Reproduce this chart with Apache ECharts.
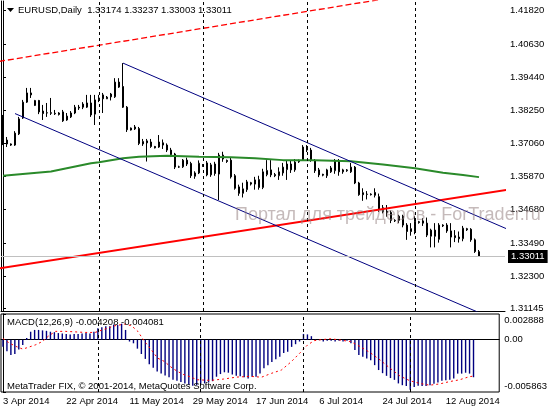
<!DOCTYPE html>
<html>
<head>
<meta charset="utf-8">
<title>EURUSD Daily</title>
<script src="https://cdn.jsdelivr.net/npm/echarts@6/dist/echarts.min.js"></script>
<style>
  html, body { margin: 0; padding: 0; background: #fff; }
  #chart { width: 550px; height: 410px; }
</style>
</head>
<body>
<div id="chart"></div>
<script>
// daily bars, 3 Apr 2014 .. 20 Aug 2014 (broker has Sunday bars, no Saturdays)
const firstDay = new Date(2014, 3, 3)
const lastDay = new Date(2014, 7, 20)
const monthNames = ['Jan','Feb','Mar','Apr','May','Jun','Jul','Aug','Sep','Oct','Nov','Dec']

const opens = [
  1.3804,1.3718,1.3704,1.3700,1.3740,1.3797,1.3854,1.3887,1.3842,1.3860,
  1.3822,1.3815,1.3816,1.3814,1.3815,1.3819,1.3790,1.3801,1.3815,1.3836,
  1.3847,1.3836,1.3851,1.3811,1.3862,1.3880,1.3866,1.3883,1.3873,1.3926,
  1.3910,1.3836,1.3754,1.3765,1.3759,1.3704,1.3715,1.3711,1.3695,1.3693,
  1.3708,1.3700,1.3682,1.3668,1.3621,1.3622,1.3646,1.3634,1.3588,1.3600,
  1.3630,1.3636,1.3593,1.3632,1.3596,1.3664,1.3645,1.3646,1.3590,1.3550,
  1.3527,1.3540,1.3565,1.3560,1.3576,1.3548,1.3594,1.3611,1.3594,1.3590,
  1.3600,1.3612,1.3632,1.3611,1.3640,1.3646,1.3693,1.3682,1.3643,1.3611,
  1.3595,1.3590,1.3604,1.3608,1.3643,1.3604,1.3608,1.3604,1.3621,1.3564,
  1.3529,1.3523,1.3524,1.3530,1.3515,1.3475,1.3463,1.3458,1.3428,1.3430,
  1.3445,1.3413,1.3400,1.3390,1.3425,1.3428,1.3420,1.3373,1.3395,1.3362,
  1.3413,1.3413,1.3392,1.3375,1.3370,1.3364,1.3400,1.3398,1.3360,1.33174
]
const highs = [
  1.3808,1.3729,1.3706,1.3750,1.3801,1.3862,1.3905,1.3905,1.3862,1.3862,
  1.3844,1.3851,1.3869,1.3826,1.3818,1.3826,1.3815,1.3822,1.3844,1.3844,
  1.3854,1.3880,1.3880,1.3880,1.3880,1.3887,1.3876,1.3887,1.3940,1.3940,
  1.3994,1.3840,1.3763,1.3772,1.3765,1.3722,1.3722,1.3722,1.3697,1.3736,
  1.3720,1.3706,1.3690,1.3672,1.3626,1.3650,1.3655,1.3640,1.3606,1.3645,
  1.3632,1.3643,1.3636,1.3640,1.3672,1.3676,1.3648,1.3655,1.3596,1.3558,
  1.3565,1.3575,1.3568,1.3586,1.3590,1.3615,1.3646,1.3646,1.3600,1.3620,
  1.3636,1.3646,1.3646,1.3650,1.3648,1.3700,1.3700,1.3690,1.3650,1.3618,
  1.3597,1.3615,1.3625,1.3650,1.3650,1.3615,1.3614,1.3636,1.3625,1.3568,
  1.3545,1.3535,1.3527,1.3545,1.3526,1.3485,1.3485,1.3465,1.3434,1.3450,
  1.3450,1.3420,1.3420,1.3445,1.3428,1.3438,1.3440,1.3400,1.3420,1.3420,
  1.3416,1.3420,1.3420,1.3395,1.3390,1.3410,1.3403,1.3402,1.3365,1.33237
]
const lows = [
  1.3700,1.3693,1.3697,1.3697,1.3736,1.3794,1.3851,1.3869,1.3840,1.3811,
  1.3790,1.3801,1.3808,1.3808,1.3806,1.3783,1.3787,1.3797,1.3811,1.3826,
  1.3829,1.3833,1.3801,1.3772,1.3854,1.3815,1.3865,1.3860,1.3869,1.3905,
  1.3833,1.3747,1.3752,1.3754,1.3700,1.3697,1.3641,1.3690,1.3688,1.3690,
  1.3686,1.3675,1.3657,1.3614,1.3618,1.3618,1.3625,1.3582,1.3579,1.3596,
  1.3622,1.3588,1.3586,1.3590,1.3503,1.3640,1.3636,1.3580,1.3540,1.3518,
  1.3512,1.3532,1.3555,1.3540,1.3540,1.3542,1.3588,1.3585,1.3585,1.3575,
  1.3590,1.3575,1.3600,1.3604,1.3636,1.3643,1.3675,1.3640,1.3600,1.3585,
  1.3588,1.3582,1.3600,1.3597,1.3590,1.3597,1.3604,1.3600,1.3560,1.3518,
  1.3500,1.3505,1.3519,1.3512,1.3460,1.3455,1.3443,1.3420,1.3424,1.3420,
  1.3405,1.3360,1.3375,1.3380,1.3418,1.3410,1.3370,1.3333,1.3333,1.3350,
  1.3406,1.3385,1.3333,1.3352,1.3350,1.3355,1.3392,1.3353,1.3313,1.33003
]
const closes = [
  1.3715,1.3704,1.3700,1.3743,1.3794,1.3854,1.3887,1.3880,1.3860,1.3819,
  1.3813,1.3816,1.3814,1.3812,1.3810,1.3787,1.3804,1.3815,1.3836,1.3833,
  1.3836,1.3851,1.3808,1.3862,1.3869,1.3866,1.3872,1.3873,1.3926,1.3908,
  1.3836,1.3755,1.3761,1.3758,1.3706,1.3713,1.3708,1.3695,1.3690,1.3711,
  1.3700,1.3682,1.3666,1.3621,1.3622,1.3646,1.3632,1.3590,1.3600,1.3635,
  1.3626,1.3593,1.3629,1.3598,1.3664,1.3650,1.3641,1.3586,1.3545,1.3527,
  1.3543,1.3568,1.3560,1.3575,1.3548,1.3604,1.3609,1.3593,1.3590,1.3604,
  1.3621,1.3632,1.3611,1.3639,1.3643,1.3693,1.3682,1.3646,1.3608,1.3593,
  1.3592,1.3611,1.3618,1.3643,1.3604,1.3611,1.3611,1.3621,1.3564,1.3522,
  1.3522,1.3524,1.3522,1.3520,1.3470,1.3460,1.3458,1.3430,1.3430,1.3445,
  1.3413,1.3390,1.3390,1.3427,1.3422,1.3420,1.3377,1.3395,1.3373,1.3413,
  1.3410,1.3392,1.3370,1.3368,1.3364,1.3402,1.3396,1.3360,1.3318,1.33011
]

// moving average (green), read as [bar, price]
const maLine = [[0,1.3590],[12,1.3605],[22,1.3635],[24,1.3638],[30,1.3653],[34,1.3658],
  [41,1.3662],[49,1.3658],[57,1.3656],[63,1.3653],[70,1.3646],[78,1.3646],[87,1.3642],
  [95,1.3630],[103,1.3617],[110,1.3601],[115,1.3593],[119,1.3585]]

// drawn trend lines, [bar, price] end points
const redChannel = [[-1,1.3258],[126,1.3539]]
const redChannelTop = [[-1,1.4000],[126,1.4296]]
const blueTop = [[30,1.3994],[126,1.3399]]
const blueBottom = [[3,1.3813],[126,1.3056]]

// MACD(12,26,9) main (histogram)
const macdMain = [
  -0.0008,-0.0013,-0.0017,-0.0016,-0.0011,-0.0006,0.0002,0.0009,0.0011,0.0011,
  0.00105,0.0010,0.0009,0.00085,0.00075,0.0007,0.00065,0.0006,0.00065,0.00065,
  0.0007,0.00075,0.0007,0.0009,0.0013,0.0014,0.0015,0.0015,0.0017,0.00165,
  0.0018,0.0011,-0.0002,-0.0004,-0.0010,-0.0016,-0.00215,-0.00275,-0.00315,-0.00355,
  -0.0038,-0.0040,-0.0042,-0.0045,-0.0046,-0.00475,-0.0049,-0.00505,-0.00515,-0.0051,
  -0.0050,-0.0049,-0.0048,-0.00465,-0.00415,-0.00385,-0.00365,-0.0037,-0.0039,-0.00405,
  -0.0041,-0.0042,-0.00435,-0.00415,-0.00415,-0.0038,-0.0032,-0.00285,-0.0025,-0.0022,
  -0.0019,-0.0015,-0.00135,-0.0008,-0.0005,-0.0002,0.00065,0.0006,0.0004,0.00005,
  -0.00005,-0.0002,-0.0001,-0.0001,-0.0002,-0.0001,-0.0002,-0.0001,-0.0004,-0.00115,
  -0.0017,-0.0019,-0.0021,-0.0023,-0.00285,-0.0034,-0.00375,-0.00405,-0.0043,-0.0045,
  -0.0049,-0.0051,-0.0052,-0.0056,-0.0053,-0.00515,-0.0052,-0.0052,-0.0051,-0.00495,
  -0.0048,-0.0046,-0.00455,-0.0045,-0.00435,-0.0038,-0.0038,-0.0037,-0.0038,-0.004208
]
// signal line (red dots), read as [bar, value]
const macdSignal = [[0,0.00015],[1.6,-0.00037],[3.3,-0.00075],[5,-0.00105],[6.6,-0.00082],
  [8.3,-0.00056],[10,-0.00019],[11.6,0.00045],[13.3,0.00094],[15.8,0.00094],[20.8,0.00082],
  [23.3,0.00082],[25.8,0.0012],[28.3,0.00157],[30.8,0.00176],[32.5,0.00157],[34.1,0.00094],
  [35.8,-0.00019],[37.5,-0.00112],[39.1,-0.00206],[40.8,-0.00243],[42.5,-0.00307],
  [44.1,-0.00355],[45.8,-0.00393],[47.5,-0.00419],[49.1,-0.00449],[52.5,-0.00456],
  [55.8,-0.00441],[59.1,-0.00419],[62.5,-0.00411],[65.4,-0.0042],[67.9,-0.00377],
  [70.4,-0.0034],[72.9,-0.00247],[75.4,-0.00135],[77,-0.0006],[78.7,-0.0001],[80.4,0],
  [82.9,0.00011],[85.4,-0.00004],[87.9,-0.0002],[90.4,-0.00079],[92.9,-0.00146],
  [95.4,-0.00228],[97.9,-0.0032],[100.4,-0.00407],[102.9,-0.0046],[105.4,-0.0049],
  [107.9,-0.0051],[110.4,-0.00496],[112.9,-0.0047],[115.4,-0.0045],[117.9,-0.00415],
  [119,-0.004081]]

const priceTicks = [1.31145,1.32300,1.33490,1.34680,1.35870,1.37060,1.38250,1.39440,1.40630,1.41820]
const macdTicks = [0.002888, 0, -0.005863]
const macdTickText = ['0.002888', '0.00', '-0.005863']
const monthLines = ['1 May 2014', '1 Jun 2014', '1 Jul 2014', '1 Aug 2014']

const totalSlots = 126 // bars plus the empty shift on the right
const categories = []
for (let d = new Date(firstDay); d <= lastDay; d.setDate(d.getDate() + 1)) {
  if (d.getDay() === 6) continue
  categories.push(d.getDate() + ' ' + monthNames[d.getMonth()] + ' ' + d.getFullYear())
}
while (categories.length < totalSlots) categories.push('pad' + categories.length)

const candles = opens.map((o, i) => [o, closes[i], lows[i], highs[i]])
const last = opens.length - 1
const font = '"Liberation Sans", Arial, sans-serif'

const monthMarks = monthLines.map(d => ({ xAxis: d }))
const dashed = { color: '#000', type: [3, 3], width: 1 }

const chart = echarts.init(document.getElementById('chart'))
chart.setOption({
  animation: false,
  backgroundColor: '#fff',
  textStyle: { fontFamily: font },
  grid: [
    { left: 1, top: 1, width: 504, height: 310 },
    { left: 1, top: 314, width: 504, height: 78, show: true, borderColor: '#000', borderWidth: 1 }
  ],
  xAxis: [
    { type: 'category', gridIndex: 0, data: categories, boundaryGap: true,
      axisLine: { lineStyle: { color: '#000' } }, axisTick: { show: false }, axisLabel: { show: false } },
    { type: 'value', gridIndex: 0, min: -0.5, max: totalSlots - 0.5, show: false },
    { type: 'category', gridIndex: 1, data: categories, boundaryGap: true,
      axisLine: { lineStyle: { color: '#000' } },
      axisTick: { interval: 15, alignWithLabel: true, length: 4, lineStyle: { color: '#000' } },
      axisLabel: { interval: 15, align: 'left', margin: 4, fontSize: 9.5, color: '#000', fontFamily: font,
        formatter: v => (v.indexOf('pad') === 0 ? '' : v) } },
    { type: 'value', gridIndex: 1, min: -0.5, max: totalSlots - 0.5, show: false }
  ],
  yAxis: [
    { type: 'value', gridIndex: 0, position: 'right', min: 1.31048, max: 1.42168,
      splitLine: { show: false },
      axisLine: { show: true, lineStyle: { color: '#000' } },
      axisTick: { show: true, length: 3, customValues: priceTicks, lineStyle: { color: '#000' } },
      axisLabel: { customValues: priceTicks, margin: 5, fontSize: 9.5, color: '#000', fontFamily: font,
        formatter: v => v.toFixed(5) } },
    { type: 'value', gridIndex: 0, position: 'left', min: 1.31048, max: 1.42168,
      splitLine: { show: false }, axisLine: { show: true, lineStyle: { color: '#000' } },
      axisTick: { show: false }, axisLabel: { show: false } },
    { type: 'value', gridIndex: 1, position: 'right', min: -0.005863, max: 0.002888,
      splitLine: { show: false },
      axisLine: { show: true, lineStyle: { color: '#000' } },
      axisTick: { show: true, length: 3, customValues: macdTicks, lineStyle: { color: '#000' } },
      axisLabel: { customValues: macdTicks, margin: 5, fontSize: 9.5, color: '#000', fontFamily: font,
        formatter: v => {
          const k = macdTicks.indexOf(v)
          const txt = k >= 0 ? macdTickText[k] : ''
          if (v > 0) return '{top|' + txt + '}'
          if (v < 0) return '{bot|' + txt + '}'
          return txt
        },
        rich: {
          top: { padding: [13, 0, 0, 0], fontSize: 9.5, color: '#000', fontFamily: font },
          bot: { padding: [0, 0, 11, 0], fontSize: 9.5, color: '#000', fontFamily: font }
        } } }
  ],
  series: [
    { type: 'candlestick', xAxisIndex: 0, yAxisIndex: 0, data: candles, barWidth: 2,
      itemStyle: { color: '#fff', color0: '#000', borderColor: '#000', borderColor0: '#000',
        borderColorDoji: '#000', borderWidth: 1 },
      markLine: { silent: true, symbol: ['none', 'none'],
        data: [
          ...monthMarks.map(m => ({ ...m, lineStyle: dashed, label: { show: false } })),
          { yAxis: closes[last], lineStyle: { color: '#c0c0c0', type: 'solid', width: 1 },
            label: { show: true, position: 'end', distance: 3, formatter: closes[last].toFixed(5),
              backgroundColor: '#000', color: '#fff', padding: [2, 3, 1, 3], fontSize: 9.5, fontFamily: font } }
        ] } },
    { type: 'line', xAxisIndex: 1, yAxisIndex: 0, data: maLine, symbol: 'none',
      lineStyle: { color: '#2a8a2a', width: 2 } },
    { type: 'line', xAxisIndex: 1, yAxisIndex: 0, data: redChannel, symbol: 'none',
      lineStyle: { color: '#ff0000', width: 2 } },
    { type: 'line', xAxisIndex: 1, yAxisIndex: 0, data: redChannelTop, symbol: 'none',
      lineStyle: { color: '#ff0000', width: 1.3, type: [6, 3] } },
    { type: 'line', xAxisIndex: 1, yAxisIndex: 0, data: blueTop, symbol: 'none',
      lineStyle: { color: '#000080', width: 1 } },
    { type: 'line', xAxisIndex: 1, yAxisIndex: 0, data: blueBottom, symbol: 'none',
      lineStyle: { color: '#000080', width: 1 } },
    { type: 'bar', xAxisIndex: 2, yAxisIndex: 2, data: macdMain, barWidth: 1.4,
      itemStyle: { color: '#000080' },
      markLine: { silent: true, symbol: ['none', 'none'],
        data: monthMarks.map(m => ({ ...m, lineStyle: dashed, label: { show: false } })) } },
    { type: 'line', xAxisIndex: 3, yAxisIndex: 2, data: macdSignal, symbol: 'none',
      lineStyle: { color: '#ff0000', width: 1, type: [2, 3] } }
  ],
  graphic: [
    { type: 'polygon', shape: { points: [[7, 8], [14, 8], [10.5, 12]] }, style: { fill: '#000' } },
    { type: 'text', x: 18, y: 10.5, style: {
        text: 'EURUSD,Daily  ' + [opens[last], highs[last], lows[last], closes[last]].map(v => v.toFixed(5)).join(' '),
        fill: '#000', font: '9.5px ' + font, verticalAlign: 'middle' } },
    { type: 'text', x: 235, y: 215, z: 20, style: {
        text: 'Портал для трейдеров - ForTrader.ru',
        fill: 'rgba(150,130,130,0.55)', font: '18px ' + font, verticalAlign: 'middle' } },
    { type: 'text', x: 7, y: 322.5, z: 20, style: {
        text: 'MACD(12,26,9) ' + macdMain[last].toFixed(6) + ' ' + macdSignal[macdSignal.length - 1][1].toFixed(6),
        fill: '#000', font: '9.5px ' + font, verticalAlign: 'middle' } },
    { type: 'text', x: 7, y: 386, z: 20, style: {
        text: 'MetaTrader FIX, © 2001-2014, MetaQuotes Software Corp.',
        fill: '#000', font: '9.5px ' + font, verticalAlign: 'middle' } }
  ]
})
</script>
</body>
</html>
